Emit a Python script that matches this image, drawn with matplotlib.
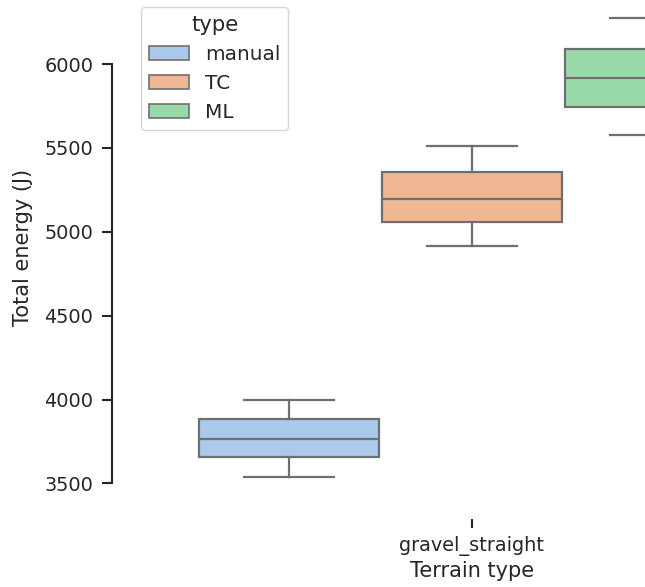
import colorsys
import matplotlib
matplotlib.use('Agg')
import matplotlib.pyplot as plt
from matplotlib.patches import Patch
import numpy as np

# ---- data ----
categories = ['gravel_straight']
hue_levels = ['manual', 'TC', 'ML']
whislo = [3538, 4915, 5577]
q1 = [3659, 5058, 5744]
med = [3766, 5195, 5915]
q3 = [3885, 5356, 6091]
whishi = [3999, 5509, 6272]
yticks = [3500, 4000, 4500, 5000, 5500, 6000]
palette = ['#a1c9f4', '#ffb482', '#8de5a1']


def desat(c, p=0.75):
    rgb = matplotlib.colors.to_rgb(c)
    h, l, s = colorsys.rgb_to_hls(*rgb)
    return colorsys.hls_to_rgb(h, l, s * p)


colors = [desat(c) for c in palette]
lum = min(colorsys.rgb_to_hls(*c)[1] for c in colors) * 0.6
gray = (lum, lum, lum)
txt = '0.15'

plt.rcParams['font.family'] = ['DejaVu Sans']

W, H = 645, 587
fig = plt.figure(figsize=(W / 100, H / 100), dpi=100)
ax_left, ax_right, ax_top, ax_bottom = 129, 815, -4.6, 500
ax = fig.add_axes([ax_left / W, 1 - ax_bottom / H,
                   (ax_right - ax_left) / W, (ax_bottom - ax_top) / H])

n = len(hue_levels)
width = 0.8
each = width / n
offsets = np.linspace(0, width - each, n) - (width - each) / 2

stats = []
for i, lab in enumerate(hue_levels):
    stats.append(dict(label=lab, whislo=whislo[i], q1=q1[i], med=med[i],
                      q3=q3[i], whishi=whishi[i], fliers=[]))

lw = 1.6
bp = ax.bxp(stats, positions=0 + offsets, widths=each * 0.98,
            patch_artist=True, showfliers=False, manage_ticks=False,
            boxprops=dict(edgecolor=gray, linewidth=lw),
            medianprops=dict(color=gray, linewidth=lw),
            whiskerprops=dict(color=gray, linewidth=lw),
            capprops=dict(color=gray, linewidth=lw))
for patch, c in zip(bp['boxes'], colors):
    patch.set_facecolor(c)

ax.set_xlim(-0.5, 0.5)
ax.set_xticks([0])
ax.set_xticklabels(categories)
ax.set_ylim(3401, 6409)
ax.set_yticks(yticks)
ax.set_yticklabels([str(v) for v in yticks])

for s in ['top', 'right']:
    ax.spines[s].set_visible(False)
ax.spines['left'].set_position(('outward', 12.3))
ax.spines['bottom'].set_position(('outward', 13.6))
ax.spines['left'].set_bounds(3500, 6000)
ax.spines['bottom'].set_bounds(0, 0)
for s in ['left', 'bottom']:
    ax.spines[s].set_color(txt)
    ax.spines[s].set_linewidth(1.5)

ax.tick_params(axis='both', direction='out', length=7.5, width=1.5,
               color=txt, labelcolor=txt, labelsize=13.9)
ax.tick_params(axis='y', pad=6.0)
ax.tick_params(axis='x', pad=5.5, length=6.5)

ax.set_ylabel('Total energy (J)', fontsize=15, color=txt, labelpad=8)
ax.set_xlabel('Terrain type', fontsize=15, color=txt, labelpad=4)

handles = [Patch(facecolor=c, edgecolor=gray, linewidth=1.2, label=l)
           for c, l in zip(colors, hue_levels)]
leg = ax.legend(handles=handles, title='type', loc='upper left',
                fontsize=14.4, title_fontsize=15.2, frameon=True,
                borderaxespad=0.6)
for t in leg.get_texts():
    t.set_color(txt)
leg.get_title().set_color(txt)

fig.savefig('out.png', dpi=100)
